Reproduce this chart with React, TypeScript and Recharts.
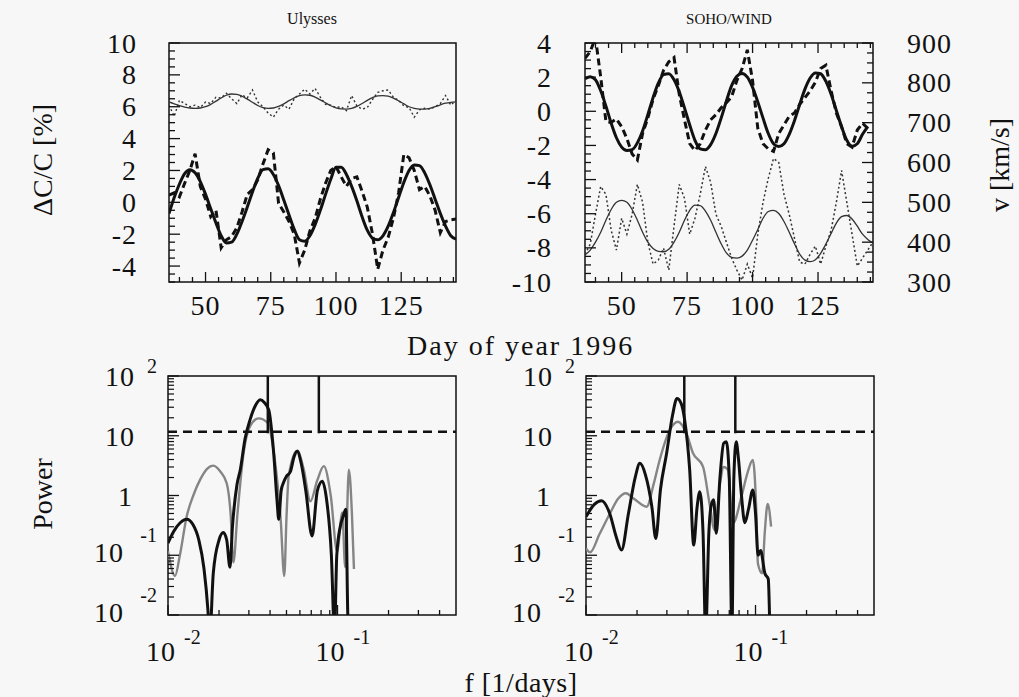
import React from "react";
import { LineChart, Line, XAxis, YAxis, ReferenceArea, ReferenceLine } from "recharts";

const FONT = "'Liberation Serif', 'Times New Roman', Times, serif";
const INK = "#111111";
const GREY = "#858585";
const PAPER = "#f7f7f7";

// ---- time series panels (day of year 1996, every 2nd day) ----
const DAYS = [
  36, 38, 40, 42, 44, 46, 48, 50, 52, 54, 56, 58, 60, 62, 64, 66, 68, 70, 72, 74,
  76, 78, 80, 82, 84, 86, 88, 90, 92, 94, 96, 98, 100, 102, 104, 106, 108, 110, 112, 114,
  116, 118, 120, 122, 124, 126, 128, 130, 132, 134, 136, 138, 140, 142, 144, 146,
];

// Ulysses, upper pair (dotted data + thin fit), ΔC/C in %
const ULY_HI_DATA = [
  6.1, 5.4, 6.4, 6.2, 6.0, 6.1, 5.95, 6.3, 6.2, 6.6, 6.55, 6.85, 6.5, 6.2, 6.75, 6.55, 7.05, 6.3, 6.0, 5.6,
  5.35, 5.85, 6.1, 5.85, 6.5, 6.8, 7.1, 6.8, 7.15, 6.6, 6.15, 6.1, 5.95, 6.0, 5.75, 6.7, 6.05, 5.85, 5.95, 6.45,
  6.9, 7.0, 7.05, 6.6, 6.4, 6.05, 5.95, 5.35, 5.8, 5.9, 5.85, 6.0, 6.2, 6.7, 6.1, 6.4,
];
const ULY_HI_FIT = [
  6.3, 6.18, 6.07, 5.98, 5.92, 5.9, 5.92, 6.0, 6.15, 6.35, 6.55, 6.72, 6.8, 6.78, 6.66, 6.48, 6.28, 6.08, 5.95, 5.9,
  5.92, 6.02, 6.18, 6.38, 6.56, 6.7, 6.75, 6.72, 6.6, 6.43, 6.24, 6.06, 5.93, 5.86, 5.85, 5.9, 6.02, 6.2, 6.4, 6.57,
  6.68, 6.7, 6.66, 6.54, 6.37, 6.18, 6.0, 5.9, 5.85, 5.85, 5.9, 6.0, 6.12, 6.22, 6.28, 6.3,
];
// Ulysses, lower pair (thick dashed data + thick fit)
const ULY_LO_DATA = [
  0.45, 0.6, 0.35, 1.2, 2.0, 3.05, 0.99, 0.2, -0.9, -0.5, -2.85, -2.35, -2.15, -1.6, -0.6, 0.5, 0.8, 1.4, 2.4, 3.3,
  3.1, -0.06, -0.6, -1.2, -2.0, -3.8, -3.0, -1.8, -1.0, 0.2, 1.2, 2.0, 2.25, 1.6, 1.0, 1.5, 1.6, 0.7, -0.3, -2.0,
  -4.2, -3.0, -2.2, -1.0, 0.6, 3.0, 2.8, 2.0, 0.8, 1.0, 0.4, -0.5, -1.9, -1.2, -1.1, -1.05,
];
const ULY_LO_FIT = [
  -0.7, 0.3, 1.15, 1.8, 2.05, 1.85, 1.3, 0.5, -0.4, -1.3, -2.1, -2.55, -2.5, -2.0, -1.2, -0.3, 0.65, 1.5, 2.05, 2.1,
  1.75, 1.05, 0.15, -0.8, -1.7, -2.35, -2.45, -2.1, -1.4, -0.5, 0.5, 1.45, 2.2, 2.2, 1.75, 1.0, 0.1, -0.9, -1.75, -2.25,
  -2.35, -2.1, -1.5, -0.65, 0.3, 1.25, 2.0, 2.35, 2.3, 1.85, 1.1, 0.2, -0.7, -1.5, -2.1, -2.3,
];

// SOHO/WIND, ΔC/C (left axis), up to day 144
const SOHO_CR_DATA = [
  3.1, 3.5, 4.3, 2.0, -0.6, -0.65, -0.45, -0.9, -1.6, -2.5, -2.85, -1.3, -0.4, 0.7, 1.5, 2.4, 2.9, 3.15, 1.0, -0.5,
  -1.9, -2.3, -1.9, -1.1, -0.5, -0.2, 0.2, 0.5, 0.85, 1.8, 2.5, 3.6, 1.8, -1.0, -1.9, -2.2, -2.35, -1.3, -0.8, -0.3,
  -0.1, 0.4, 0.8, 1.2, 1.7, 2.5, 2.7, 1.2, -0.1, -0.9, -1.9, -2.1, -1.1, -0.7, -1.0,
];
const SOHO_CR_FIT = [
  1.9, 2.03, 1.85, 1.2, 0.3, -0.7, -1.55, -2.1, -2.3, -2.25, -1.85, -1.15, -0.2, 0.8, 1.65, 2.15, 2.2, 1.85, 1.15, 0.2,
  -0.8, -1.7, -2.2, -2.25, -1.95, -1.3, -0.4, 0.6, 1.5, 2.05, 2.22, 2.0, 1.4, 0.55, -0.4, -1.3, -1.9, -2.07, -1.9, -1.35,
  -0.55, 0.4, 1.3, 1.95, 2.25, 2.2, 1.75, 1.0, 0.05, -0.9, -1.7, -2.05, -1.9, -1.35, -0.9,
];
// solar wind speed, km/s (right axis)
const WIND_V_DATA = [
  370, 395, 470, 540, 520, 430, 380, 460, 420, 470, 545, 500, 400, 345, 355, 385, 330, 440, 545, 510,
  420, 460, 520, 590, 550, 470, 440, 400, 360, 330, 305, 345, 310, 420, 500, 560, 610, 600, 520, 470,
  410, 350, 345, 370, 390, 345, 390, 430, 500, 580, 500, 420, 340, 360, 380, 400,
];
const WIND_V_FIT = [
  368, 380, 400, 425, 455, 482, 500, 505, 500, 482, 455, 425, 400, 384, 377, 376, 382, 400, 425, 455,
  480, 493, 492, 478, 455, 425, 396, 373, 362, 360, 365, 380, 405, 432, 460, 477, 480, 472, 452, 425,
  396, 370, 355, 351, 356, 372, 395, 422, 448, 464, 467, 458, 440, 420, 407, 398,
];

// ---- power spectra ----
const ULY_CR_F = [
  0.01, 0.0108, 0.0118, 0.0129, 0.014, 0.0152, 0.0163, 0.0172, 0.0176, 0.0185,
  0.02, 0.0212, 0.0222, 0.0232, 0.024, 0.0255, 0.0267, 0.0285, 0.0305, 0.0328,
  0.035, 0.037, 0.0393, 0.042, 0.044, 0.045, 0.0465, 0.0481, 0.05, 0.0527,
  0.0555, 0.0578, 0.061, 0.065, 0.0708, 0.076, 0.0813, 0.086, 0.092, 0.096,
  0.099, 0.104, 0.108, 0.112, 0.115, 0.117,
];
const ULY_CR_P = [
  0.16, 0.25, 0.35, 0.4, 0.33, 0.18, 0.06, 0.012, 0.004, 0.05,
  0.18, 0.24, 0.18, 0.063, 0.3, 1.5, 2.7, 9, 18.6, 32,
  40, 36, 27, 5.2, 0.8, 0.4, 1.2, 1.66, 2.1, 2.5,
  4.5, 5.5, 3.5, 1.2, 0.21, 1.2, 1.74, 0.9, 0.1, 0.005,
  0.1, 0.31, 0.45, 0.59, 0.01, 0.004,
];
const ULY_B_F = [
  0.01, 0.011, 0.01175, 0.0129, 0.0141, 0.0155, 0.017, 0.0185, 0.0204, 0.0222,
  0.0234, 0.0243, 0.0257, 0.0279, 0.0305, 0.0342, 0.0389, 0.0417, 0.044, 0.0462,
  0.0485, 0.0501, 0.0515, 0.0578, 0.0631, 0.0692, 0.0759, 0.083, 0.0912, 0.0995,
  0.1067, 0.111, 0.1167, 0.1216, 0.125,
];
const ULY_B_P = [
  0.117, 0.045, 0.1, 0.45, 1.0, 1.86, 2.8, 3.16, 2.5, 1.6,
  0.5, 0.076, 0.5, 5.1, 14.5, 19.5, 16.2, 6.3, 1.86, 0.4,
  0.045, 0.5, 2.1, 5.6, 2.8, 0.8, 1.78, 3.1, 1.0, 0.117,
  0.52, 0.063, 2.7, 0.5, 0.059,
];
const SOHO_CR_F = [
  0.01, 0.0112, 0.01236, 0.0138, 0.0151, 0.0162, 0.0178, 0.0195, 0.0208, 0.0224,
  0.0245, 0.0258, 0.0275, 0.0299, 0.0324, 0.0344, 0.0363, 0.0382, 0.0409, 0.0432,
  0.0452, 0.0469, 0.049, 0.0508, 0.0531, 0.0548, 0.0566, 0.0587, 0.0617, 0.0649,
  0.0673, 0.07, 0.0726, 0.0745, 0.0769, 0.0794, 0.0824, 0.0865, 0.091, 0.0964,
  0.1, 0.1035, 0.1072, 0.1135, 0.1189, 0.1216,
];
const SOHO_CR_P = [
  0.44, 0.71, 0.82, 0.5, 0.2, 0.122, 0.5, 2.0, 3.45, 2.24,
  0.63, 0.19, 1.26, 5.1, 22, 42, 35.5, 18.4, 2.67, 0.148,
  0.63, 1.16, 0.25, 0.005, 0.25, 0.69, 0.85, 0.233, 2.0, 7.5,
  7.9, 2.0, 0.005, 2.0, 7.9, 4.0, 1.1, 0.35, 0.6, 1.24,
  0.5, 0.1, 0.12, 0.05, 0.04, 0.005,
];
const SOHO_B_F = [
  0.01, 0.01057, 0.012, 0.01384, 0.0155, 0.0172, 0.0191, 0.0228, 0.0251, 0.0272,
  0.0312, 0.0349, 0.0391, 0.0428, 0.049, 0.0536, 0.0574, 0.0617, 0.0649, 0.0687,
  0.0736, 0.0824, 0.0891, 0.0964, 0.1012, 0.1033, 0.1094, 0.1135, 0.118, 0.1236,
];
const SOHO_B_P = [
  0.13, 0.112, 0.224, 0.5, 0.89, 1.09, 0.89, 0.65, 1.58, 3.93,
  12.5, 17.2, 11, 5.1, 3.04, 0.72, 0.264, 1.58, 3.0, 2.7,
  0.34, 0.93, 2.24, 3.93, 0.5, 0.073, 0.05, 0.25, 0.72, 0.3,
];
const ULY_PEAKS = [0.0388, 0.0776];
const SOHO_PEAKS = [0.038, 0.076];
const SIGNIFICANCE = 11.7;

// ---- ticks ----
const steps = (from: number, to: number, step: number) =>
  Array.from({ length: Math.round((to - from) / step) + 1 }, (_, i) => from + i * step);

const DAY_LABELS = [50, 75, 100, 125];
const DAY_TICKS = steps(40, 145, 5);
const ULY_LABELS = [-4, -2, 0, 2, 4, 6, 8, 10];
const ULY_TICKS = steps(-5, 10, 0.5);
const SOHO_LABELS = [-10, -8, -6, -4, -2, 0, 2, 4];
const SOHO_TICKS = steps(-10, 4, 0.5);
const V_LABELS = [300, 400, 500, 600, 700, 800, 900];
const V_TICKS = steps(300, 900, 25);
const FREQ_LABELS = [0.01, 0.1];
const FREQ_LABEL_TEXT = [["10", "-2"], ["10", "-1"]];
const FREQ_TICKS = [0.01, 0.02, 0.03, 0.04, 0.05, 0.06, 0.07, 0.08, 0.09, 0.1, 0.2, 0.3, 0.4];
const POWER_LABELS = [100, 10, 1, 0.1, 0.01];
const POWER_LABEL_TEXT = [["10", "2"], ["10", ""], ["1", ""], ["10", "-1"], ["10", "-2"]];
const POWER_TICKS = [
  0.01, 0.02, 0.03, 0.04, 0.05, 0.06, 0.07, 0.08, 0.09, 0.1, 0.2, 0.3, 0.4, 0.5, 0.6, 0.7, 0.8, 0.9,
  1, 2, 3, 4, 5, 6, 7, 8, 9, 10, 20, 30, 40, 50, 60, 70, 80, 90, 100,
];

const pts = (xs: number[], ys: number[]) => ys.map((y, i) => ({ x: xs[i], y }));
const findIdx = (list: number[], v: number) =>
  list.findIndex((t) => Math.abs(t - v) <= 1e-6 * Math.max(Math.abs(t), 1e-9));

const NUM = { fontFamily: FONT, fontSize: 28, fill: INK, letterSpacing: 1 } as const;
const SUP = { fontFamily: FONT, fontSize: 20, fill: INK } as const;

type TickArgs = { x: number; y: number; payload: { value: number } };

function dayTick(withLabels: boolean, side: "bottom" | "top") {
  return ({ x, y, payload }: TickArgs) => {
    const major = findIdx(DAY_LABELS, payload.value) >= 0;
    const dir = side === "bottom" ? -1 : 1;
    return (
      <g>
        <line x1={x} y1={y} x2={x} y2={y + dir * (major ? 10 : 5)} stroke={INK} strokeWidth={1.3} />
        {withLabels && major && (
          <text x={x} y={y + 33} textAnchor="middle" style={NUM}>
            {payload.value}
          </text>
        )}
      </g>
    );
  };
}

function sideTick(labels: number[], side: "left" | "right", gap: number) {
  return ({ x, y, payload }: TickArgs) => {
    const major = findIdx(labels, payload.value) >= 0;
    const dir = side === "left" ? 1 : -1;
    return (
      <g>
        <line x1={x} y1={y} x2={x + dir * (major ? 11 : 6)} y2={y} stroke={INK} strokeWidth={1.3} />
        {major && (
          <text
            x={side === "left" ? x - gap : x + gap}
            y={y + 9.5}
            textAnchor={side === "left" ? "end" : "start"}
            style={NUM}
          >
            {payload.value}
          </text>
        )}
      </g>
    );
  };
}

const freqTick = ({ x, y, payload }: TickArgs) => {
  const i = findIdx(FREQ_LABELS, payload.value);
  return (
    <g>
      <line x1={x} y1={y} x2={x} y2={y - (i >= 0 ? 10 : 5)} stroke={INK} strokeWidth={1.3} />
      {i >= 0 && (
        <>
          <text x={x + 8} y={y + 46} textAnchor="end" style={NUM}>
            {FREQ_LABEL_TEXT[i][0]}
          </text>
          <text x={x + 16} y={y + 29} textAnchor="start" style={SUP}>
            {FREQ_LABEL_TEXT[i][1]}
          </text>
        </>
      )}
    </g>
  );
};

const powerTick = ({ x, y, payload }: TickArgs) => {
  const i = findIdx(POWER_LABELS, payload.value);
  if (i < 0) {
    return <line x1={x} y1={y} x2={x + 6} y2={y} stroke={INK} strokeWidth={1.2} />;
  }
  const [base, exp] = POWER_LABEL_TEXT[i];
  const neg = exp.startsWith("-");
  return (
    <g>
      <line x1={x} y1={y} x2={x + 11} y2={y} stroke={INK} strokeWidth={1.3} />
      <text x={x - (neg ? 44 : base === "1" ? 35 : 33)} y={y + (neg ? 7 : 10)} textAnchor="end" style={NUM}>
        {base}
      </text>
      {exp && (
        <text x={x - 11} y={y + (neg ? -13 : -3)} textAnchor="end" style={SUP}>
          {exp}
        </text>
      )}
    </g>
  );
};

const axisBase = { tickSize: 0, tickMargin: 0, axisLine: false, interval: 0 as const, allowDataOverflow: true };

function UlyssesSeries() {
  return (
    <div style={{ position: "absolute", left: 99, top: 23 }}>
      <LineChart width={367} height={309} margin={{ top: 20, right: 10, bottom: 0, left: 0 }}>
        <XAxis type="number" dataKey="x" domain={[36, 146]} ticks={DAY_TICKS} tick={dayTick(true, "bottom")} height={50} {...axisBase} />
        <YAxis type="number" domain={[-5, 10]} ticks={ULY_TICKS} tick={sideTick(ULY_LABELS, "left", 32)} width={70} {...axisBase} />
        <Line data={pts(DAYS, ULY_HI_DATA)} dataKey="y" type="linear" stroke="#333" strokeWidth={1.4} strokeDasharray="2 2.5" dot={false} isAnimationActive={false} />
        <Line data={pts(DAYS, ULY_HI_FIT)} dataKey="y" type="monotone" stroke="#333" strokeWidth={1.3} dot={false} isAnimationActive={false} />
        <Line data={pts(DAYS, ULY_LO_DATA)} dataKey="y" type="linear" stroke={INK} strokeWidth={3} strokeDasharray="7 4" dot={false} isAnimationActive={false} />
        <Line data={pts(DAYS, ULY_LO_FIT)} dataKey="y" type="monotone" stroke={INK} strokeWidth={3} dot={false} isAnimationActive={false} />
        <ReferenceArea x1={36} x2={146} y1={-5} y2={10} fill="none" stroke={INK} strokeWidth={1.5} />
      </LineChart>
    </div>
  );
}

function SohoSeries() {
  return (
    <div style={{ position: "absolute", left: 509, top: 23 }}>
      <LineChart width={454} height={309} margin={{ top: 10, right: 0, bottom: 0, left: 0 }}>
        <XAxis type="number" dataKey="x" domain={[36, 146]} ticks={DAY_TICKS} tick={dayTick(true, "bottom")} height={50} {...axisBase} />
        <XAxis xAxisId="top" orientation="top" type="number" dataKey="x" domain={[36, 146]} ticks={DAY_TICKS} tick={dayTick(false, "top")} height={10} {...axisBase} />
        <YAxis type="number" domain={[-10, 4]} ticks={SOHO_TICKS} tick={sideTick(SOHO_LABELS, "left", 33)} width={76} {...axisBase} />
        <YAxis yAxisId="v" orientation="right" type="number" domain={[300, 900]} ticks={V_TICKS} tick={sideTick(V_LABELS, "right", 34)} width={90} {...axisBase} />
        <Line data={pts(DAYS, WIND_V_DATA)} xAxisId="top" yAxisId="v" dataKey="y" type="linear" stroke="#333" strokeWidth={1.5} strokeDasharray="2 2.5" dot={false} isAnimationActive={false} />
        <Line data={pts(DAYS, WIND_V_FIT)} xAxisId="top" yAxisId="v" dataKey="y" type="monotone" stroke="#333" strokeWidth={1.3} dot={false} isAnimationActive={false} />
        <Line data={pts(DAYS, SOHO_CR_DATA)} dataKey="y" type="linear" stroke={INK} strokeWidth={3} strokeDasharray="7 4" dot={false} isAnimationActive={false} />
        <Line data={pts(DAYS, SOHO_CR_FIT)} dataKey="y" type="monotone" stroke={INK} strokeWidth={3} dot={false} isAnimationActive={false} />
        <ReferenceArea x1={36} x2={146} y1={-10} y2={4} fill="none" stroke={INK} strokeWidth={1.5} />
      </LineChart>
    </div>
  );
}

function Spectrum({ left, thickF, thickP, greyF, greyP, peaks }: {
  left: number; thickF: number[]; thickP: number[]; greyF: number[]; greyP: number[]; peaks: number[];
}) {
  return (
    <div style={{ position: "absolute", left, top: 346 }}>
      <LineChart width={378} height={324} margin={{ top: 30, right: 10, bottom: 0, left: 0 }}>
        <XAxis type="number" scale="log" dataKey="x" domain={[0.01, 0.5]} ticks={FREQ_TICKS} tick={freqTick} height={55} {...axisBase} />
        <YAxis type="number" scale="log" domain={[0.01, 100]} ticks={POWER_TICKS} tick={powerTick} width={80} {...axisBase} />
        <Line data={pts(greyF, greyP)} dataKey="y" type="monotone" stroke={GREY} strokeWidth={2.4} dot={false} isAnimationActive={false} />
        <Line data={pts(thickF, thickP)} dataKey="y" type="monotone" stroke={INK} strokeWidth={3} dot={false} isAnimationActive={false} />
        <ReferenceLine y={SIGNIFICANCE} stroke={INK} strokeWidth={2.5} strokeDasharray="9 6" />
        {peaks.map((f) => (
          <ReferenceLine key={f} segment={[{ x: f, y: 100 }, { x: f, y: 11 }]} stroke={INK} strokeWidth={2.5} />
        ))}
        <ReferenceArea x1={0.01} x2={0.5} y1={0.01} y2={100} fill="none" stroke={INK} strokeWidth={1.5} />
      </LineChart>
    </div>
  );
}

export default function App() {
  const label = { fontFamily: FONT, fill: INK } as const;
  return (
    <div style={{ position: "absolute", left: 0, top: 0, width: 1019, height: 697, background: PAPER, overflow: "hidden" }}>
      <svg width={1019} height={697} style={{ position: "absolute", left: 0, top: 0 }}>
        <text x={312} y={24} textAnchor="middle" style={{ ...label, fontSize: 16 }}>Ulysses</text>
        <text x={729} y={24} textAnchor="middle" style={{ ...label, fontSize: 15 }}>SOHO/WIND</text>
        <text transform="translate(52,160) rotate(-90)" textAnchor="middle" style={{ ...label, fontSize: 28 }}>ΔC/C [%]</text>
        <text transform="translate(1009,165) rotate(-90)" textAnchor="middle" style={{ ...label, fontSize: 28 }}>v [km/s]</text>
        <text x={407} y={355} textAnchor="start" style={{ ...label, fontSize: 28, letterSpacing: 2 }}>Day of year 1996</text>
        <text transform="translate(52,494) rotate(-90)" textAnchor="middle" style={{ ...label, fontSize: 28 }}>Power</text>
        <text x={521} y={692} textAnchor="middle" style={{ ...label, fontSize: 28, letterSpacing: 0.5 }}>f [1/days]</text>
      </svg>
      <UlyssesSeries />
      <SohoSeries />
      <Spectrum left={88} thickF={ULY_CR_F} thickP={ULY_CR_P} greyF={ULY_B_F} greyP={ULY_B_P} peaks={ULY_PEAKS} />
      <Spectrum left={506} thickF={SOHO_CR_F} thickP={SOHO_CR_P} greyF={SOHO_B_F} greyP={SOHO_B_P} peaks={SOHO_PEAKS} />
    </div>
  );
}
